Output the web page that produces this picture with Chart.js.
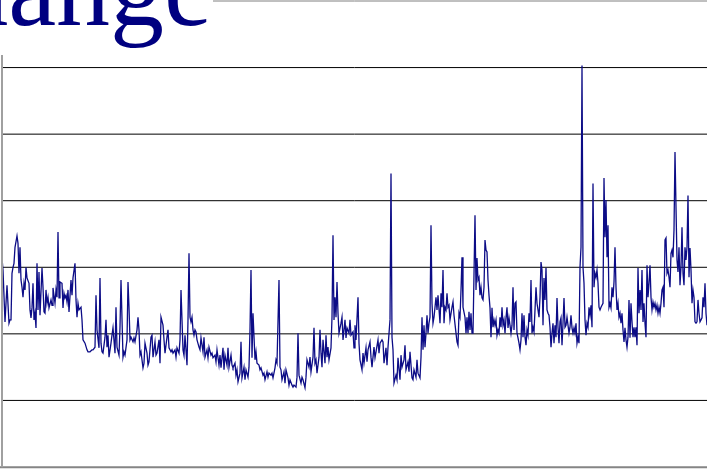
<!DOCTYPE html>
<html><head><meta charset="utf-8">
<script src="https://cdn.jsdelivr.net/npm/chart.js@4.4.1/dist/chart.umd.min.js"></script>
<style>html,body{margin:0;padding:0;background:#fff;overflow:hidden}canvas{display:block}</style>
</head><body>
<canvas id="c" width="707" height="469" style="width:707px;height:469px"></canvas>
<script>
const titleText = "Exchange";
const gridValues = [1, 2, 3, 4, 5, 6];
const yMin = 0, yMax = 7;
const xMin = 0, xMax = 705;

const days = [
0,1,3,4,5,7,8,9,10,11,
12,13,15,16,17,18,19,20,21,22,
23,24,25,27,28,29,30,31,32,33,
34,35,36,37,38,40,41,42,43,44,
45,46,47,49,50,51,53,54,55,56,
57,58,60,61,62,63,64,65,66,67,
69,70,71,73,74,75,76,77,79,80,
81,83,85,86,88,90,91,93,94,95,
97,98,99,100,101,103,104,105,106,107,
109,110,111,113,114,115,117,118,
119,121,122,123,125,126,127,128,129,131,
132,133,135,136,137,138,139,141,142,143,
145,146,147,149,150,151,153,154,155,157,
158,159,161,162,163,165,166,167,169,170,
171,173,174,175,177,178,179,181,182,183,
185,186,187,188,189,190,191,192,193,194,
195,197,198,199,201,202,203,205,206,207,
209,210,211,213,214,215,217,218,219,221,
222,223,225,226,227,229,230,231,233,234,
235,
236,238,239,240,242,243,244,246,247,248,
249,250,251,253,254,255,257,258,259,261,
262,263,265,266,267,269,270,271,273,274,
275,277,278,279,280,282,283,284,286,287,
288,290,291,292,294,295,296,297,299,300,
301,303,304,305,307,308,309,311,312,313,
314,315,317,318,319,320,321,323,324,325,
326,327,329,330,331,332,333,334,335,336,
337,339,340,341,343,344,345,347,348,349,
351,352,353,
354,356,357,358,360,361,362,364,365,366,
368,369,370,372,373,374,376,377,378,380,
381,382,384,385,386,388,389,390,391,392,
394,395,396,398,399,400,402,403,404,406,
407,408,410,411,412,414,415,416,418,419,
420,421,422,423,424,425,426,427,428,429,
430,431,432,434,435,436,438,439,440,441,
442,443,444,445,446,447,448,450,451,452,
454,455,456,457,458,459,460,461,463,464,
465,466,467,468,469,470,471,
473,474,475,476,477,478,479,480,481,482,
483,484,485,486,487,488,489,490,491,492,
493,494,495,496,497,498,499,500,501,502,
503,504,505,506,507,508,509,510,511,512,
513,514,515,516,517,518,519,520,521,522,
523,524,525,526,527,528,529,530,531,532,
533,534,535,536,537,538,539,540,541,542,
543,544,545,546,547,548,549,550,551,552,
553,554,555,556,557,558,559,560,561,562,
563,564,565,566,567,568,569,570,571,572,
573,574,575,576,577,578,579,580,581,582,
583,584,585,586,587,588,589,590,
591,592,593,594,595,596,597,598,599,600,
601,602,603,604,605,606,607,608,609,610,
611,612,613,614,615,616,617,618,619,620,
621,622,623,624,625,626,627,628,629,630,
631,632,633,634,635,636,637,638,639,640,
641,642,643,644,645,646,647,648,649,650,
651,652,653,654,655,656,657,658,659,660,
661,662,663,664,665,666,667,668,669,670,
671,672,673,674,675,676,677,678,679,680,
681,682,683,684,685,686,687,688,689,690,
691,692,693,694,695,696,697,698,699,700,
701,702,703,704,705,706
];

const values = [
3.14,2.96,2.18,2.46,2.73,2.16,2.21,2.21,2.91,3.00,
3.06,3.30,3.47,3.36,2.91,3.30,2.81,2.70,2.55,2.76,
2.66,3.00,2.84,2.76,2.36,2.24,2.39,2.76,2.21,2.31,
2.09,3.06,2.36,2.93,2.28,2.99,2.70,2.33,2.31,2.66,
2.46,2.55,2.39,2.51,2.43,2.69,2.46,2.66,2.55,3.53,
2.54,2.78,2.76,2.39,2.61,2.54,2.58,2.48,2.66,2.33,
2.81,2.58,2.84,3.06,2.51,2.25,2.46,2.36,2.40,2.21,
1.91,1.86,1.76,1.73,1.73,1.76,1.76,1.80,2.58,2.06,
1.79,2.84,1.86,1.73,1.71,1.95,2.21,1.80,1.98,1.65,
1.86,1.98,2.09,1.71,2.40,1.80,1.68,2.10,
2.81,1.65,1.73,1.68,1.91,2.78,2.40,1.91,1.95,1.88,
1.94,1.88,2.06,2.25,2.06,1.68,1.73,1.49,1.56,1.86,
1.71,1.53,1.58,1.95,1.98,1.65,1.88,1.68,1.71,1.91,
1.56,2.25,2.13,1.91,1.71,1.95,2.06,1.79,1.73,1.76,
1.71,1.76,1.65,1.79,1.71,1.91,2.66,1.76,1.68,1.98,
1.53,2.21,3.21,2.25,2.18,2.25,2.06,1.98,2.06,2.03,
1.91,1.80,1.76,1.94,1.73,1.95,1.65,1.76,1.64,1.80,
1.68,1.71,1.64,1.68,1.58,1.76,1.53,1.68,1.49,1.79,
1.46,1.68,1.53,1.79,1.50,1.68,1.53,1.49,1.56,1.38,
1.46,
1.28,1.41,1.88,1.34,1.50,1.31,1.46,1.35,1.50,2.06,
2.96,1.64,2.31,1.61,1.73,1.56,1.53,1.46,1.49,1.38,
1.41,1.31,1.43,1.35,1.41,1.38,1.41,1.34,1.49,1.61,
1.56,2.81,1.50,1.46,1.31,1.43,1.26,1.46,1.34,1.23,
1.31,1.23,1.20,1.23,1.20,1.35,2.01,1.38,1.26,1.35,
1.31,1.19,1.35,1.61,1.50,1.65,1.43,1.65,2.09,1.56,
1.61,1.41,1.65,2.06,1.71,1.50,1.91,1.56,1.98,1.65,
1.80,1.61,1.79,2.25,3.48,2.21,2.55,2.25,2.78,2.31,
2.01,2.16,2.25,1.91,2.21,1.94,2.09,2.01,2.21,1.98,
2.03,1.79,2.13,
1.91,2.55,1.86,1.61,1.46,1.71,1.56,1.79,1.58,1.76,
1.88,1.65,1.50,1.80,1.64,1.73,1.91,1.71,1.86,1.91,
1.88,1.56,1.79,1.53,1.80,2.21,4.41,1.95,1.76,1.26,
1.38,1.31,1.64,1.31,1.68,1.50,1.61,1.83,1.46,1.58,
1.43,1.73,1.34,1.31,1.46,1.35,1.61,1.41,1.34,1.65,
2.25,1.76,2.13,1.80,2.01,2.28,2.01,2.16,2.25,3.63,
2.46,2.16,2.25,2.55,2.36,2.58,2.16,2.61,2.40,2.96,
2.16,2.40,2.36,2.61,2.40,2.43,2.21,2.40,2.48,2.28,
2.01,1.88,1.83,2.31,2.25,2.66,3.15,2.40,2.25,2.01,
2.25,2.01,2.33,2.06,2.31,2.01,2.01,
3.78,2.66,3.14,2.81,2.85,2.58,2.70,2.54,2.51,2.70,
3.41,3.26,3.23,2.81,2.58,2.39,1.95,2.39,2.10,2.21,
2.13,2.21,1.98,2.06,2.01,2.25,2.10,2.40,2.13,2.21,
2.01,2.24,2.40,2.09,2.24,2.13,2.01,2.13,2.70,2.06,
2.46,2.48,2.01,1.94,1.86,1.76,1.91,2.31,1.95,2.28,
1.95,1.83,2.06,1.98,2.31,2.18,2.81,2.01,2.10,2.03,
2.36,2.70,2.46,2.36,2.25,2.55,3.08,2.96,2.13,2.84,
2.51,2.99,2.36,2.31,2.28,2.10,1.80,2.01,2.16,1.86,
2.13,1.95,2.54,2.10,1.86,2.18,2.24,1.83,2.16,2.54,
2.10,2.13,2.25,2.13,2.01,2.10,2.28,2.09,2.01,2.09,
2.01,2.16,1.86,1.95,1.86,3.00,3.30,6.03,3.00,2.76,
2.21,1.98,2.16,2.10,2.40,2.28,2.43,2.10,
4.26,2.70,2.91,2.85,2.96,2.76,2.40,2.36,2.40,2.43,
2.46,4.34,3.45,4.01,3.15,3.63,2.40,2.46,2.39,2.70,
2.55,2.78,3.30,2.70,2.36,2.46,2.25,2.31,2.16,2.31,
2.06,1.88,2.09,1.91,1.80,1.95,2.51,1.94,2.46,2.18,
1.95,2.10,1.95,2.10,1.83,2.99,2.31,2.66,2.36,2.96,
2.18,2.46,2.16,1.95,3.03,2.55,2.76,3.03,2.55,2.36,
2.48,2.40,2.46,2.36,2.43,2.31,2.40,2.31,2.46,2.66,
2.70,2.40,3.41,3.44,2.91,2.96,2.85,2.70,3.21,3.26,
3.15,3.56,4.73,3.90,3.11,2.93,3.30,2.73,3.00,3.60,
2.91,2.73,3.30,3.11,3.30,4.08,2.85,3.29,2.96,2.46,
2.66,2.55,2.18,2.16,2.18,2.51,2.31,2.18,2.21,2.24,
2.55,2.40,2.76,2.31,2.13,2.10
];

const framePlugin = {
  id: 'frame',
  beforeDatasetsDraw(chart) {
    const { ctx, chartArea: a, scales: { y } } = chart;
    ctx.save();
    ctx.strokeStyle = '#000';
    ctx.lineWidth = 1;
    gridValues.forEach(v => {
      const py = y.getPixelForValue(v);
      ctx.beginPath(); ctx.moveTo(a.left, py); ctx.lineTo(a.right, py); ctx.stroke();
    });
    ctx.strokeStyle = '#808080';
    const top = y.getPixelForValue(yMax);
    ctx.beginPath(); ctx.moveTo(a.left, top); ctx.lineTo(a.right, top); ctx.stroke();
    ctx.restore();
  },
  afterDatasetsDraw(chart) {
    const { ctx, chartArea: a, scales: { y } } = chart;
    ctx.save();
    const bottom = y.getPixelForValue(yMin) + 0.3;
    ctx.strokeStyle = '#858585';
    ctx.lineWidth = 2;
    ctx.beginPath(); ctx.moveTo(0, bottom); ctx.lineTo(a.right, bottom); ctx.stroke();
    ctx.strokeStyle = '#a0a0a0';
    ctx.beginPath(); ctx.moveTo(a.left, 0); ctx.lineTo(a.left, bottom); ctx.stroke();
    // title box
    ctx.fillStyle = '#fff';
    ctx.fillRect(0, 0, 213, 55);
    ctx.font = '108px "Liberation Serif", "Times New Roman", serif';
    ctx.fillStyle = '#000080';
    ctx.textAlign = 'right';
    ctx.textBaseline = 'alphabetic';
    ctx.fillText(titleText, 212, 25);
    ctx.restore();
  }
};

new Chart(document.getElementById('c').getContext('2d'), {
  type: 'line',
  data: {
    datasets: [{
      data: days.map((d, i) => ({ x: d, y: values[i] })),
      borderColor: '#0c0c86',
      borderWidth: 1.3,
      pointRadius: 0,
      tension: 0,
      fill: false
    }]
  },
  options: {
    responsive: false,
    animation: false,
    devicePixelRatio: 1,
    layout: { padding: { left: 2, right: 0, top: 1, bottom: 2 } },
    plugins: { legend: { display: false }, tooltip: { enabled: false }, title: { display: false } },
    scales: {
      x: { type: 'linear', min: xMin, max: xMax, display: false },
      y: { min: yMin, max: yMax, display: false }
    }
  },
  plugins: [framePlugin]
});
</script>
</body></html>
